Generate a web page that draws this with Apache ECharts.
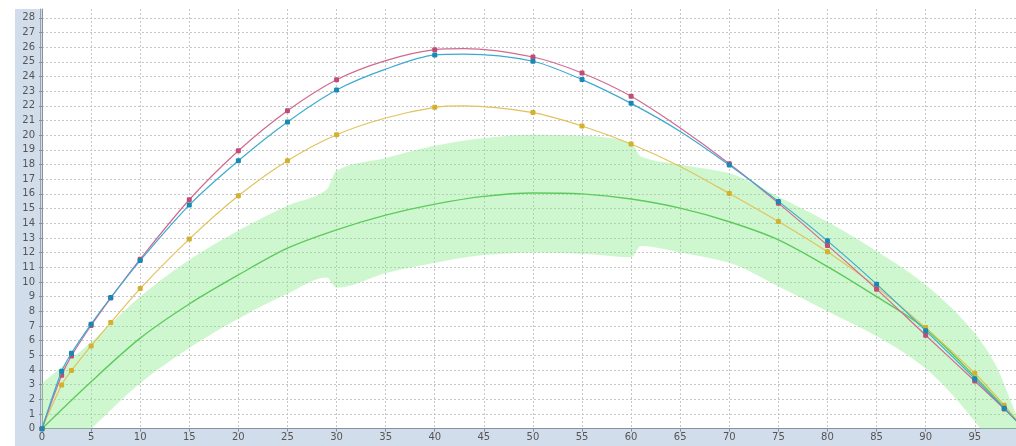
<!DOCTYPE html>
<html>
<head>
<meta charset="utf-8">
<script src="https://cdn.jsdelivr.net/npm/echarts@6/dist/echarts.min.js"></script>
<style>
html,body{margin:0;padding:0;background:#fff;}
#wrap{position:relative;width:1016px;height:446px;background:#fff;overflow:hidden;}
#band{position:absolute;left:15px;top:9px;right:0;bottom:0;background:#d2ddec;}
#chart{position:absolute;left:0;top:0;width:1016px;height:446px;}
</style>
</head>
<body>
<div id="wrap"><div id="band"></div><div id="chart"></div></div>
<script>
// x positions of the three marked series (markerShown: 1 = marker drawn, 0 = plain line point)
const markerX     = [0, 2, 3, 5, 7, 10, 15, 20, 25, 30, 35, 40, 43, 50, 55, 60, 65, 70, 75, 80, 85, 90, 95, 98, 100];
const markerShown = [1, 1, 1, 1, 1, 1, 1, 1, 1, 1, 0, 1, 0, 1, 1, 1, 0, 1, 1, 1, 1, 1, 1, 1, 0];
const pinkValues   = [0, 3.64, 4.96, 7.03, 8.9, 11.55, 15.6, 18.94, 21.67, 23.78, 25.08, 25.83, 25.9, 25.33, 24.24, 22.65, 20.49, 18.06, 15.37, 12.49, 9.51, 6.37, 3.25, 1.35, 0];
const blueValues   = [0, 3.91, 5.14, 7.12, 8.94, 11.46, 15.24, 18.26, 20.9, 23.08, 24.5, 25.47, 25.53, 25.04, 23.79, 22.17, 20.26, 17.97, 15.49, 12.8, 9.85, 6.68, 3.41, 1.39, 0];
const yellowValues = [0, 2.98, 3.96, 5.64, 7.23, 9.55, 12.92, 15.87, 18.26, 20.03, 21.17, 21.9, 22.0, 21.54, 20.63, 19.4, 17.87, 16.03, 14.12, 12.05, 9.65, 6.89, 3.78, 1.6, 0];

// green centre line
const greenX      = [0, 5, 10, 15, 20, 25, 30, 35, 40, 45, 50, 55, 60, 65, 70, 75, 80, 85, 90, 95, 98, 100];
const greenValues = [0, 3.2, 6.17, 8.5, 10.48, 12.3, 13.55, 14.55, 15.3, 15.83, 16.06, 16.0, 15.65, 15.03, 14.1, 12.87, 11.05, 9.0, 6.8, 3.55, 1.45, 0];

// shaded band (lower / upper edges; values below 0 fall outside the plot)
const bandX     = [0, 5, 10, 15, 20, 25, 29, 30, 35, 40, 45, 50, 55, 60, 61, 65, 70, 75, 80, 85, 90, 95, 97, 99.2];
const bandUpper = [3.1, 5.9, 9.0, 11.5, 13.5, 15.2, 16.3, 17.6, 18.45, 19.28, 19.8, 20.03, 19.97, 19.47, 18.55, 18.0, 17.4, 15.8, 14.1, 12.1, 9.8, 6.5, 4.5, 1.0];
const bandLower = [-3.0, 0, 3.1, 5.5, 7.5, 9.2, 10.3, 9.6, 10.6, 11.3, 11.83, 12.0, 11.92, 11.69, 12.45, 12.0, 11.3, 9.7, 8.0, 6.3, 4.1, 0.5, -1.3, -3.0];

const xTicks = { min: 0, max: 99.2, interval: 5 };
const yTicks = { min: 0, max: 28.6, interval: 1 };

const markedData = (ys) => markerX.map((x, i) => markerShown[i]
  ? { value: [x, ys[i]] }
  : { value: [x, ys[i]], symbol: 'none' });

// monotone cubic (in pixel x) used only to draw smooth band edges
function monotone(pts, steps) {
  const n = pts.length, out = [];
  if (n < 3) return pts.slice();
  const dx = [], s = [], m = new Array(n);
  for (let i = 0; i < n - 1; i++) { dx[i] = pts[i + 1][0] - pts[i][0]; s[i] = (pts[i + 1][1] - pts[i][1]) / dx[i]; }
  m[0] = s[0]; m[n - 1] = s[n - 2];
  for (let i = 1; i < n - 1; i++) {
    if (s[i - 1] * s[i] <= 0) m[i] = 0;
    else { const w1 = 2 * dx[i] + dx[i - 1], w2 = dx[i] + 2 * dx[i - 1]; m[i] = (w1 + w2) / (w1 / s[i - 1] + w2 / s[i]); }
  }
  for (let i = 0; i < n - 1; i++) {
    const x0 = pts[i][0], y0 = pts[i][1], y1 = pts[i + 1][1], h = dx[i];
    for (let k = 0; k < steps; k++) {
      const t = k / steps, t2 = t * t, t3 = t2 * t;
      const y = (2 * t3 - 3 * t2 + 1) * y0 + (t3 - 2 * t2 + t) * h * m[i] + (-2 * t3 + 3 * t2) * y1 + (t3 - t2) * h * m[i + 1];
      out.push([x0 + t * h, y]);
    }
  }
  out.push(pts[n - 1]);
  return out;
}

const chart = echarts.init(document.getElementById('chart'), null, { renderer: 'canvas' });
const gridLine = { color: '#c6c6c6', type: [2, 2], width: 1 };
const axisCol = '#8a9099';
const labelStyle = { fontFamily: 'DejaVu Sans', fontSize: 10, color: '#555' };
const SMOOTH = 0.3;

chart.setOption({
  animation: false,
  backgroundColor: 'transparent',
  grid: { left: 42, right: 0, top: 9, bottom: 17.3, show: true, backgroundColor: '#fff', borderWidth: 0 },
  xAxis: {
    type: 'value', min: xTicks.min, max: xTicks.max, interval: xTicks.interval,
    axisLine: { show: true, onZero: false, lineStyle: { color: axisCol, width: 1 } },
    axisTick: { show: true, length: 3, lineStyle: { color: axisCol } },
    axisLabel: Object.assign({ margin: 4, showMaxLabel: false }, labelStyle),
    splitLine: { show: true, showMaxLine: false, showMinLine: false, lineStyle: gridLine }
  },
  yAxis: [{
    type: 'value', min: yTicks.min, max: yTicks.max, interval: yTicks.interval,
    axisLine: { show: true, onZero: false, lineStyle: { color: axisCol, width: 1 } },
    axisTick: { show: true, length: 3, lineStyle: { color: axisCol } },
    axisLabel: Object.assign({ margin: 7, showMaxLabel: false }, labelStyle),
    splitLine: { show: true, showMaxLine: false, showMinLine: false, lineStyle: gridLine }
  }, {
    type: 'value', position: 'left', offset: 2, min: yTicks.min, max: yTicks.max,
    axisLine: { show: true, onZero: false, lineStyle: { color: '#9aa2ab', width: 1 } },
    axisTick: { show: false }, axisLabel: { show: false }, splitLine: { show: false }
  }],
  series: [
    {
      name: 'band', type: 'custom', silent: true, z: 1,
      data: bandX.map((x, i) => [x, bandLower[i], bandUpper[i]]),
      encode: { x: 0, y: [1, 2] },
      renderItem: function (params, api) {
        if (params.dataIndexInside !== 0) return null;
        const up = bandX.map((x, i) => api.coord([x, bandUpper[i]]));
        const lo = bandX.map((x, i) => api.coord([x, bandLower[i]]));
        const pts = monotone(up, 12).concat(monotone(lo, 12).reverse());
        const cs = params.coordSys;
        return {
          type: 'group',
          clipPath: { type: 'rect', shape: { x: cs.x, y: cs.y, width: cs.width, height: cs.height } },
          children: [{ type: 'polygon', shape: { points: pts }, style: { fill: 'rgba(140,236,140,0.42)' } }]
        };
      }
    },
    {
      name: 'green', type: 'line', smooth: SMOOTH, symbol: 'none',
      data: greenX.map((x, i) => [x, greenValues[i]]), lineStyle: { color: '#5ccb5c', width: 1.4 }, z: 2
    },
    {
      name: 'yellow', type: 'line', smooth: SMOOTH, symbol: 'roundRect', symbolSize: 5,
      data: markedData(yellowValues), lineStyle: { color: '#e2c25c', width: 1.2 },
      itemStyle: { color: '#d3b02e' }, z: 3
    },
    {
      name: 'pink', type: 'line', smooth: SMOOTH, symbol: 'roundRect', symbolSize: 5,
      data: markedData(pinkValues), lineStyle: { color: '#d06a90', width: 1.2 },
      itemStyle: { color: '#c24c75' }, z: 4
    },
    {
      name: 'blue', type: 'line', smooth: SMOOTH, symbol: 'roundRect', symbolSize: 5,
      data: markedData(blueValues), lineStyle: { color: '#3ca9d3', width: 1.2 },
      itemStyle: { color: '#1689b4' }, z: 5
    }
  ]
});
</script>
</body>
</html>
